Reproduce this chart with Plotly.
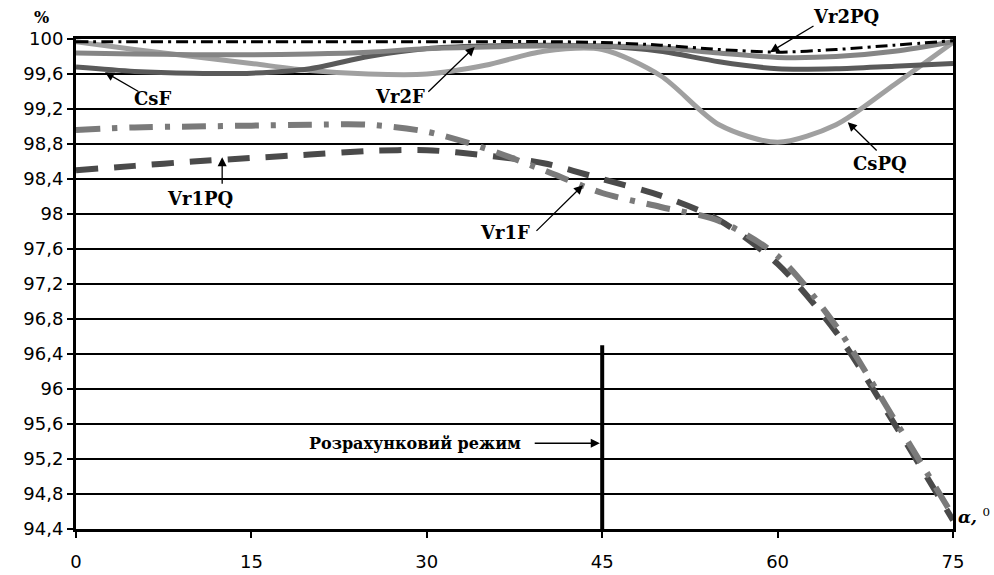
import plotly.graph_objects as go

alpha = [0, 5, 10, 15, 20, 25, 30, 35, 40, 45, 50, 55, 60, 65, 70, 75]

Vr1PQ = [98.50, 98.55, 98.60, 98.64, 98.68, 98.72, 98.73, 98.67, 98.58, 98.40, 98.21, 97.93, 97.43, 96.65, 95.60, 94.50]
Vr1F  = [98.96, 98.99, 99.00, 99.01, 99.02, 99.02, 98.94, 98.75, 98.50, 98.24, 98.08, 97.92, 97.52, 96.72, 95.65, 94.55]
CsPQ  = [99.97, 99.88, 99.80, 99.72, 99.64, 99.60, 99.60, 99.70, 99.86, 99.88, 99.58, 99.02, 98.82, 99.02, 99.48, 99.96]
CsF   = [99.68, 99.63, 99.61, 99.61, 99.66, 99.80, 99.89, 99.92, 99.93, 99.92, 99.86, 99.74, 99.66, 99.66, 99.69, 99.72]
Vr2F  = [99.84, 99.83, 99.82, 99.82, 99.83, 99.85, 99.89, 99.91, 99.92, 99.92, 99.90, 99.84, 99.79, 99.80, 99.86, 99.97]
Vr2PQ = [99.97, 99.97, 99.97, 99.97, 99.97, 99.97, 99.97, 99.97, 99.97, 99.96, 99.93, 99.88, 99.85, 99.88, 99.93, 99.98]

regime_x = [45, 45]
regime_y = [94.4, 96.5]

x_ticks = [0, 15, 30, 45, 60, 75]
y_ticks = [94.4, 94.8, 95.2, 95.6, 96.0, 96.4, 96.8, 97.2, 97.6, 98.0, 98.4, 98.8, 99.2, 99.6, 100.0]
y_tick_text = ["94,4", "94,8", "95,2", "95,6", "96", "96,4", "96,8", "97,2", "97,6", "98", "98,4", "98,8", "99,2", "99,6", "100"]

series = [
    ("Vr1PQ", Vr1PQ, "#4a4a4a", 6, "22px,16px"),
    ("Vr1F", Vr1F, "#7a7a7a", 6, "24px,12px,5px,12px"),
    ("CsPQ", CsPQ, "#a0a0a0", 5, "solid"),
    ("CsF", CsF, "#5a5a5a", 5, "solid"),
    ("Vr2F", Vr2F, "#858585", 5, "solid"),
    ("Vr2PQ", Vr2PQ, "#000000", 3, "12px,5px,3px,5px"),
]

fig = go.Figure()
for name, ys, col, w, dash in series:
    fig.add_trace(go.Scatter(x=alpha, y=ys, mode="lines", name=name,
                             line=dict(color=col, width=w, dash=dash, shape="spline", smoothing=0.8),
                             cliponaxis=False))

fig.add_trace(go.Scatter(x=regime_x, y=regime_y, mode="lines",
                         line=dict(color="black", width=4), showlegend=False))

lab_font = dict(family="DejaVu Serif", size=18, color="black")
ann = []

def arrow_label(text, tx, ty, ax, ay, hx, hy, size=18):
    f = dict(lab_font)
    f["size"] = size
    ann.append(dict(x=tx, y=ty, xref="x", yref="y", text="<b>%s</b>" % text,
                    showarrow=False, font=f))
    ann.append(dict(x=hx, y=hy, ax=ax, ay=ay, xref="x", yref="y", axref="x", ayref="y",
                    text="", showarrow=True, arrowhead=2, arrowsize=1.4, arrowwidth=1.3,
                    arrowcolor="black"))

arrow_label("CsF", 6.5, 99.32, 5.47, 99.39, 2.48, 99.62)
arrow_label("Vr2F", 27.7, 99.34, 30.0, 99.38, 34.1, 99.91)
arrow_label("CsPQ", 68.76, 98.58, 68.6, 98.71, 66.0, 99.05)
arrow_label("Vr1PQ", 10.6, 98.18, 12.5, 98.33, 12.5, 98.65)
arrow_label("Vr1F", 36.7, 97.79, 39.25, 97.79, 43.36, 98.33)
arrow_label("Розрахунковий режим", 29.0, 95.38, 39.1, 95.38, 44.8, 95.38, size=16)

# labels outside the plot area (paper coordinates)
ann.append(dict(x=0.878, y=1.045, xref="paper", yref="paper", text="<b>Vr2PQ</b>",
                xanchor="center", yanchor="middle", showarrow=False, font=lab_font))
ann.append(dict(x=59.35, y=99.85, xref="x", yref="y", ax=45, ay=-27, text="",
                showarrow=True, arrowhead=2, arrowsize=1.4, arrowwidth=1.3, arrowcolor="black"))
ann.append(dict(x=1.003, y=0.027, xref="paper", yref="paper",
                text="<b><i>α,</i></b> <sup>0</sup>", showarrow=False, font=dict(lab_font, size=17),
                xanchor="left", yanchor="middle"))
ann.append(dict(x=-0.039, y=1.044, xref="paper", yref="paper", text="<b>%</b>",
                xanchor="center", yanchor="middle", showarrow=False, font=dict(lab_font, size=16)))

fig.update_layout(
    width=994, height=575,
    margin=dict(l=76, r=41, t=39, b=46, autoexpand=False),
    paper_bgcolor="white", plot_bgcolor="white",
    showlegend=False,
    annotations=ann,
    xaxis=dict(range=[0, 75], tickvals=x_ticks, ticks="outside", ticklen=6, tickwidth=2,
               tickcolor="black", showgrid=False, zeroline=False, automargin=False,
               showline=True, linecolor="black", linewidth=3, mirror=True,
               ticklabelstandoff=8,
               tickfont=dict(family="DejaVu Sans", size=18, color="black")),
    yaxis=dict(range=[94.4, 100], tickvals=y_ticks, ticktext=y_tick_text, ticks="outside",
               ticklen=6, tickwidth=2, tickcolor="black", showgrid=True, gridcolor="black",
               gridwidth=2, zeroline=False, showline=True, linecolor="black", linewidth=3,
               mirror=True, automargin=False,
               tickfont=dict(family="DejaVu Sans", size=18, color="black")),
)

fig.write_html("out.html")
